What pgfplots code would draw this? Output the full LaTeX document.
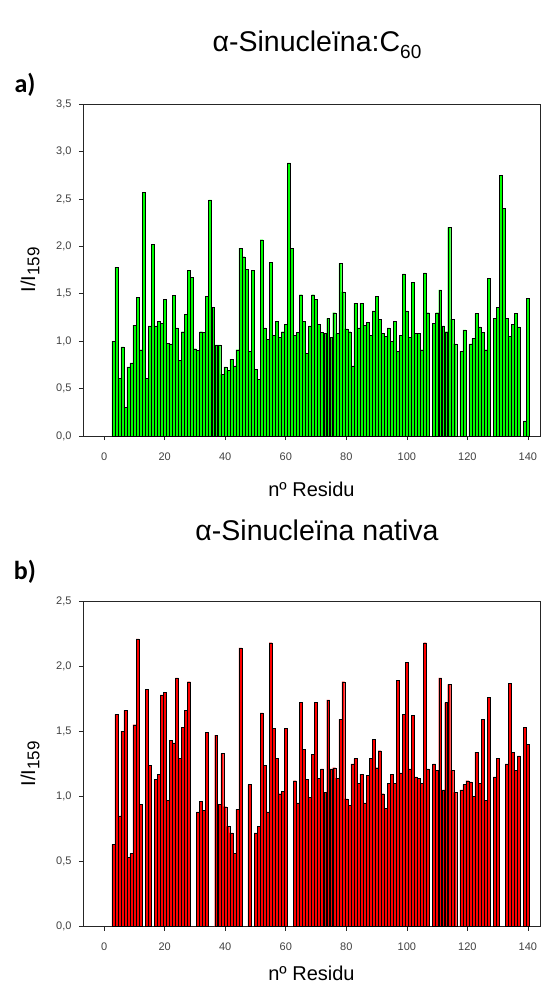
\documentclass[border=0pt]{standalone}
\usepackage{pgfplots}
\pgfplotsset{compat=1.18}
\usepackage{fontspec}
\setmainfont{Liberation Sans}
\newfontfamily\calibri{Carlito}
\definecolor{barG}{RGB}{0,255,0}
\definecolor{barR}{RGB}{255,0,0}
\pgfplotsset{
  myax/.style={
    scale only axis, width=457pt, anchor=south west,
    xmin=-7, xmax=144, ymin=0,
    xtick={0,20,...,140},
    tick pos=left, tick align=outside,
    major tick length=4pt,
    axis line style={line width=0.6pt, black!85},
    tick style={line width=0.6pt, black!85},
    ticklabel style={font=\fontsize{11}{12}\selectfont, text=black!75},
    xticklabel shift=9pt, yticklabel shift=4pt,
    /pgf/number format/assume math mode=true,
    yticklabel style={/pgf/number format/.cd, use comma, fixed, fixed zerofill, precision=1},
    ybar, bar width=0.97,
    label style={font=\fontsize{20}{22}\selectfont},
    xlabel={nº Residu},
    ylabel={I/I\raisebox{-0.4ex}{\fontsize{17}{18}\selectfont 159}},
    ylabel style={at={(axis description cs:-0.116,0.5)}, anchor=center},
  }
}
\begin{document}
\begin{tikzpicture}
\useasboundingbox (0pt,0pt) rectangle (550pt,-986pt);
\node[font=\fontsize{28.5}{30}\selectfont] at (317pt,-45pt) {α-Sinucleïna:C\raisebox{-0.45ex}{\fontsize{19}{20}\selectfont 60}};
\node[font=\calibri\bfseries\fontsize{26}{28}\selectfont] at (25pt,-85pt) {a)};
\node[font=\fontsize{28.5}{30}\selectfont] at (317pt,-530pt) {α-Sinucleïna nativa};
\node[font=\calibri\bfseries\fontsize{26}{28}\selectfont] at (25pt,-572pt) {b)};
\begin{axis}[myax, at={(83pt,-436pt)}, height=332pt, ymax=3.5,
  ytick={0,0.5,...,3.5},
  xlabel style={at={(axis description cs:0.5,-0.161)}, anchor=center}]
\addplot[fill=barG, draw=black, line width=0.3pt] coordinates {
(3,1.00)(4,1.78)(5,0.61)(6,0.94)(7,0.30)(8,0.73)(9,0.77)(10,1.17)(11,1.46)(12,0.91)
(13,2.57)(14,0.61)(15,1.16)(16,2.02)(17,1.16)(18,1.21)(19,1.19)(20,1.44)(21,0.98)(22,0.97)
(23,1.48)(24,1.14)(25,0.80)(26,1.10)(27,1.28)(28,1.75)(29,1.67)(30,0.92)(31,0.90)(32,1.10)
(33,1.09)(34,1.47)(35,2.49)(36,1.36)(37,0.96)(38,0.96)(39,0.65)(40,0.73)(41,0.69)(42,0.81)
(43,0.74)(44,0.91)(45,1.98)(46,1.89)(47,1.76)(48,0.89)(49,1.75)(50,0.70)(51,0.60)(52,2.07)
(53,1.14)(54,1.02)(55,1.83)(56,1.06)(57,1.21)(58,1.04)(59,1.10)(60,1.18)(61,2.88)(62,1.98)
(63,1.06)(64,1.09)(65,1.49)(66,1.21)(67,0.87)(68,1.16)(69,1.49)(70,1.44)(71,1.18)(72,1.09)
(73,1.08)(74,1.24)(75,1.04)(76,1.30)(77,1.08)(78,1.82)(79,1.52)(80,1.13)(81,1.10)(82,0.74)
(83,1.40)(84,1.14)(85,1.40)(86,1.17)(87,1.20)(88,1.06)(89,1.32)(90,1.47)(91,1.23)(92,1.08)
(93,1.05)(94,1.14)(95,1.00)(96,1.21)(97,0.89)(98,1.06)(99,1.71)(100,1.32)(101,1.04)(102,1.62)
(103,1.08)(104,1.08)(105,0.91)(106,1.72)(107,1.30)(109,1.19)(110,1.30)(111,1.54)(112,1.16)
(113,1.10)(114,2.20)(115,1.23)(116,0.97)(118,0.89)(119,1.12)(121,0.97)(122,1.03)(123,1.29)
(124,1.15)(125,1.09)(126,0.91)(127,1.66)(129,1.24)(130,1.36)(131,2.75)(132,2.40)(133,1.24)
(134,1.05)(135,1.18)(136,1.29)(137,1.15)(139,0.16)(140,1.45)
};
\end{axis}
\begin{axis}[myax, at={(83pt,-926.5pt)}, height=325.5pt, ymax=2.5,
  ytick={0,0.5,...,2.5},
  xlabel style={at={(axis description cs:0.5,-0.145)}, anchor=center}]
\addplot[fill=barR, draw=black, line width=0.3pt] coordinates {
(3,0.63)(4,1.63)(5,0.85)(6,1.50)(7,1.66)(8,0.53)(9,0.56)(10,1.55)(11,2.21)(12,0.94)
(14,1.82)(15,1.24)(17,1.13)(18,1.17)(19,1.78)(20,1.80)(21,0.97)(22,1.43)(23,1.41)(24,1.91)
(25,1.29)(26,1.53)(27,1.66)(28,1.88)(31,0.88)(32,0.96)(33,0.89)(34,1.49)(37,1.47)(38,0.94)
(39,1.33)(40,0.92)(41,0.77)(42,0.72)(43,0.56)(44,0.90)(45,2.14)(48,1.09)(50,0.72)(51,0.77)
(52,1.64)(53,1.24)(54,0.88)(55,2.18)(56,1.52)(57,1.29)(58,1.02)(59,1.04)(60,1.52)(63,1.12)
(64,0.95)(65,1.72)(66,1.36)(67,1.13)(68,0.99)(69,1.32)(70,1.72)(71,1.14)(72,1.21)(73,1.03)
(74,1.74)(75,1.21)(76,1.22)(77,1.14)(78,1.59)(79,1.88)(80,0.98)(81,0.93)(82,1.25)(83,1.29)
(84,1.10)(85,1.17)(86,0.95)(87,1.16)(88,1.29)(89,1.44)(90,1.22)(91,1.35)(92,1.02)(93,0.91)
(94,1.10)(95,1.17)(96,1.10)(97,1.89)(98,1.18)(99,1.63)(100,2.03)(101,1.21)(102,1.62)(103,1.15)
(104,1.14)(105,1.10)(106,2.18)(107,1.21)(109,1.25)(110,1.20)(111,1.91)(112,1.05)(113,1.72)
(114,1.86)(115,1.20)(116,1.03)(118,1.05)(119,1.09)(120,1.12)(121,1.11)(122,1.00)(123,1.34)
(124,1.10)(125,1.59)(126,0.97)(127,1.76)(129,1.15)(130,1.29)(133,1.25)(134,1.87)(135,1.34)
(136,1.20)(137,1.31)(139,1.53)(140,1.40)
};
\end{axis}
\end{tikzpicture}
\end{document}
